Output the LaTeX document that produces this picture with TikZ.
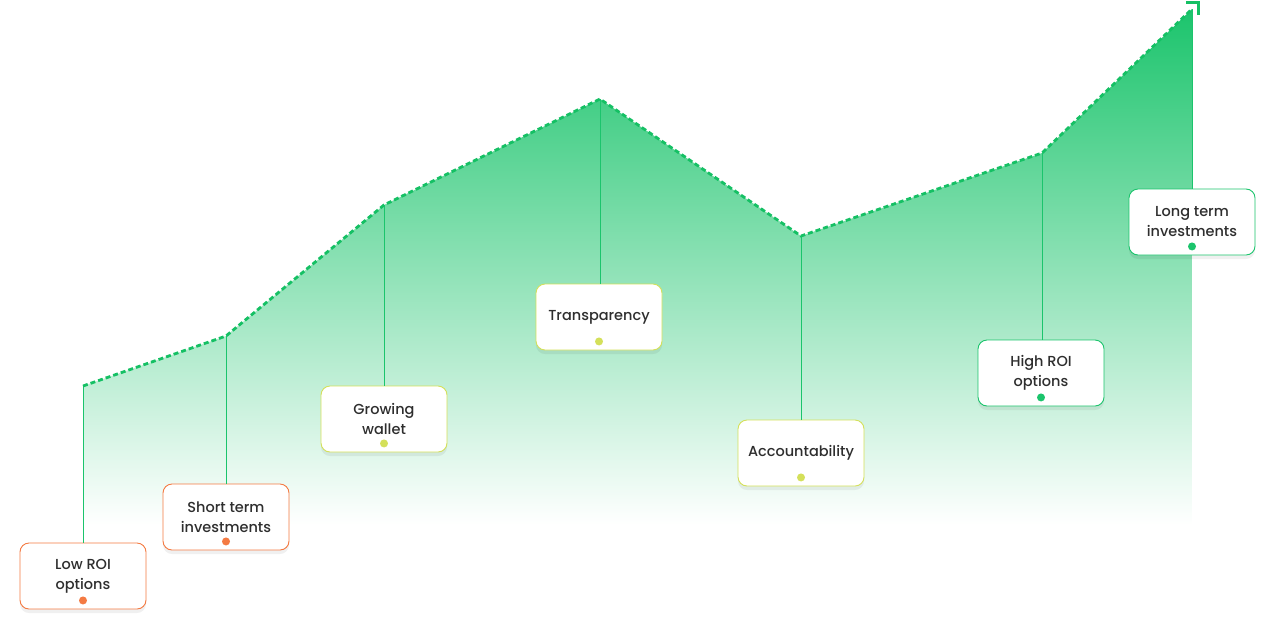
\documentclass[tikz,border=0pt]{standalone}
\usepackage{fontspec}
\setmainfont{Poppins}[UprightFont=* Medium]
\usetikzlibrary{shadows,calc}
\definecolor{gr}{HTML}{1BC46C}
\definecolor{dashgr}{HTML}{15C064}
\definecolor{orb}{HTML}{F47A42}
\definecolor{ylb}{HTML}{D4E05A}
\definecolor{txt}{HTML}{2E2E2E}
\tikzset{
  box/.style={draw=#1, line width=0.9pt, fill=white, rounded corners=9pt,
    minimum width=126pt, minimum height=66pt, align=center, text=txt,
    font=\fontsize{14.5}{20}\selectfont,
    drop shadow={shadow xshift=0pt, shadow yshift=-4pt, opacity=0.06, fill=black}},
  stem/.style={draw=gr, line width=0.9pt},
  trend/.style={draw=dashgr, line width=2.8pt, dash pattern=on 5pt off 3pt},
}
\begin{document}
\begin{tikzpicture}[x=1pt,y=-1pt]
\useasboundingbox (0,0) rectangle (1276,635);
\coordinate (p1) at (83,386);
\coordinate (p2) at (226,336);
\coordinate (p3) at (384,205);
\coordinate (p4) at (600,99);
\coordinate (p5) at (801,236);
\coordinate (p6) at (1042,153);
\coordinate (p7) at (1192,9);
\coordinate (q1) at (1192,525);
\coordinate (q0) at (83,525);
\begin{scope}
\clip (p1) -- (p2) -- (p3) -- (p4) -- (p5) -- (p6) -- (p7) -- (q1) -- (q0) -- cycle;
\shade[top color=gr, bottom color=white] (83,8) rectangle (1192,525);
\end{scope}
% boxes
\node[box=orb] (b1) at (83,576) {Low ROI\\options};
\node[box=orb] (b2) at (226,517) {Short term\\investments};
\node[box=ylb] (b3) at (384,419) {Growing\\wallet};
\node[box=ylb] (b4) at (599,317) {Transparency};
\node[box=ylb] (b5) at (801,453) {Accountability};
\node[box=gr] (b6) at (1041,373) {High ROI\\options};
\node[box=gr] (b7) at (1192,222) {Long term\\investments};
% stems
\draw[stem] (p1) -- (p1 |- b1.north);
\draw[stem] (p2) -- (p2 |- b2.north);
\draw[stem] (p3) -- (p3 |- b3.north);
\draw[stem] (p4) -- (p4 |- b4.north);
\draw[stem] (p5) -- (p5 |- b5.north);
\draw[stem] (p6) -- (p6 |- b6.north);
\draw[stem] (p7) -- (p7 |- b7.north);
% dots
\fill[orb] ($(b1.south)+(0,-9)$) circle (4);
\fill[orb] ($(b2.south)+(0,-9)$) circle (4);
\fill[ylb] ($(b3.south)+(0,-9)$) circle (4);
\fill[ylb] ($(b4.south)+(0,-9)$) circle (4);
\fill[ylb] ($(b5.south)+(0,-9)$) circle (4);
\fill[gr] ($(b6.south)+(0,-9)$) circle (4);
\fill[gr] ($(b7.south)+(0,-9)$) circle (4);
% trend line
\draw[trend] (p1) -- (p2) -- (p3) -- (p4) -- (p5) -- (p6) -- (p7);
\coordinate (h1) at (1186,2.5);
\coordinate (h2) at (1198.5,2.5);
\coordinate (h3) at (1198.5,15);
\draw[dashgr, line width=2.6pt, line join=miter] (h1) -- (h2) -- (h3);
\end{tikzpicture}
\end{document}
